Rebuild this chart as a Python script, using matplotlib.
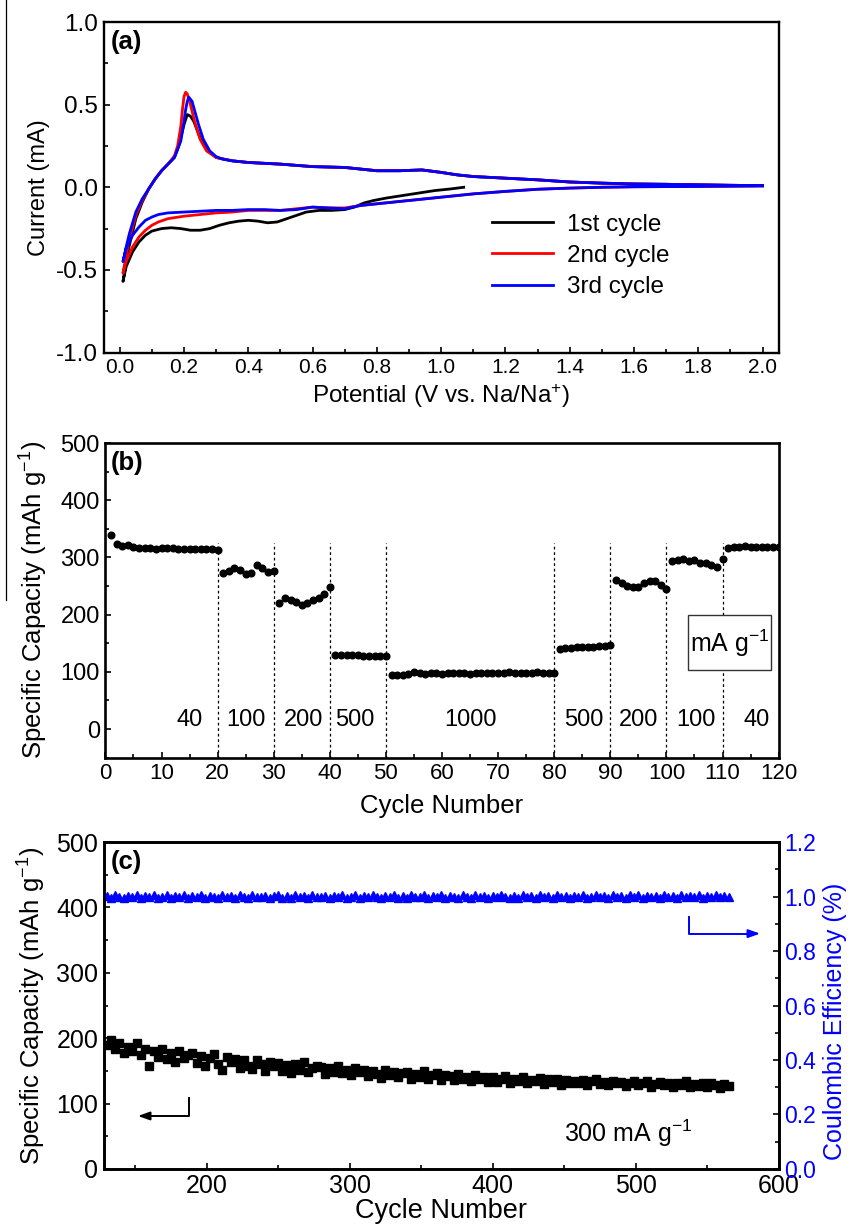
import numpy as np
import matplotlib
matplotlib.use("Agg")
import matplotlib.pyplot as plt
from matplotlib.ticker import MultipleLocator, FormatStrFormatter
from matplotlib.lines import Line2D
from matplotlib.patches import Rectangle

plt.rcParams['font.family'] = ['Liberation Sans', 'DejaVu Sans']
plt.rcParams['mathtext.fontset'] = 'custom'
plt.rcParams['mathtext.rm'] = 'Liberation Sans'
plt.rcParams['mathtext.it'] = 'Liberation Sans'

# ---------------- Panel (a): CV data ----------------
cv1_cath_v = [1.07, 1.03, 0.98, 0.93, 0.88, 0.83, 0.79, 0.76, 0.73, 0.70, 0.66, 0.62, 0.58, 0.55,
              0.52, 0.49, 0.46, 0.43, 0.40, 0.37, 0.34, 0.31, 0.28, 0.25, 0.22, 0.19, 0.16, 0.13,
              0.10, 0.08, 0.06, 0.04, 0.02, 0.01]
cv1_cath_i = [0.0, -0.01, -0.02, -0.035, -0.05, -0.065, -0.08, -0.095, -0.12, -0.135, -0.14, -0.14,
              -0.15, -0.17, -0.19, -0.21, -0.215, -0.205, -0.20, -0.205, -0.215, -0.23, -0.25, -0.26,
              -0.26, -0.25, -0.245, -0.25, -0.265, -0.29, -0.33, -0.39, -0.48, -0.57]
cv1_an_v = [0.01, 0.02, 0.03, 0.05, 0.07, 0.09, 0.11, 0.13, 0.15, 0.17, 0.18, 0.19, 0.20, 0.21,
            0.22, 0.23, 0.24, 0.25, 0.27, 0.30, 0.35, 0.40, 0.50, 0.60, 0.70, 0.80, 0.87, 0.94,
            1.00, 1.05, 1.10, 1.20, 1.30, 1.40, 1.50, 1.60, 1.70, 1.80, 1.90, 2.00]
cv1_an_i = [-0.57, -0.45, -0.35, -0.19, -0.09, -0.01, 0.05, 0.10, 0.14, 0.18, 0.23, 0.30, 0.38, 0.44,
            0.43, 0.40, 0.35, 0.30, 0.23, 0.18, 0.16, 0.15, 0.14, 0.125, 0.12, 0.10, 0.10, 0.105,
            0.09, 0.075, 0.065, 0.055, 0.045, 0.032, 0.025, 0.02, 0.018, 0.015, 0.012, 0.01]

cath_v = [2.0, 1.8, 1.6, 1.5, 1.4, 1.3, 1.2, 1.1, 1.0, 0.9, 0.8, 0.75, 0.7, 0.65, 0.6, 0.55, 0.5,
          0.45, 0.4, 0.35, 0.3, 0.25, 0.2, 0.15, 0.12, 0.1, 0.08, 0.06, 0.04, 0.02, 0.01]
cv2_cath_i = [0.008, 0.005, 0.003, 0.0, -0.005, -0.012, -0.025, -0.04, -0.06, -0.08, -0.10, -0.11,
              -0.125, -0.125, -0.12, -0.13, -0.14, -0.14, -0.14, -0.15, -0.155, -0.165, -0.175,
              -0.19, -0.21, -0.23, -0.26, -0.30, -0.36, -0.45, -0.52]
cv3_cath_i = [0.008, 0.005, 0.003, 0.0, -0.005, -0.012, -0.025, -0.04, -0.06, -0.08, -0.10, -0.11,
              -0.13, -0.125, -0.12, -0.135, -0.14, -0.135, -0.135, -0.14, -0.14, -0.145, -0.15,
              -0.155, -0.165, -0.18, -0.20, -0.24, -0.29, -0.37, -0.45]

cv2_an_v = [0.01, 0.02, 0.03, 0.05, 0.07, 0.09, 0.11, 0.13, 0.15, 0.17, 0.18, 0.19, 0.195, 0.20,
            0.205, 0.21, 0.22, 0.23, 0.24, 0.25, 0.27, 0.30, 0.35, 0.40, 0.50, 0.60, 0.70, 0.80,
            0.87, 0.94, 1.00, 1.05, 1.10, 1.20, 1.30, 1.40, 1.50, 1.60, 1.70, 1.80, 1.90, 2.00]
cv2_an_i = [-0.52, -0.41, -0.31, -0.17, -0.08, -0.01, 0.05, 0.10, 0.14, 0.19, 0.25, 0.37, 0.47,
            0.55, 0.575, 0.565, 0.50, 0.42, 0.35, 0.29, 0.22, 0.18, 0.16, 0.15, 0.14, 0.125, 0.12,
            0.10, 0.10, 0.105, 0.09, 0.075, 0.065, 0.055, 0.045, 0.032, 0.025, 0.02, 0.018, 0.015,
            0.012, 0.01]
cv3_an_v = [0.01, 0.02, 0.03, 0.05, 0.07, 0.09, 0.11, 0.13, 0.15, 0.17, 0.19, 0.20, 0.205, 0.21,
            0.215, 0.225, 0.235, 0.245, 0.26, 0.28, 0.30, 0.32, 0.35, 0.40, 0.50, 0.60, 0.70, 0.80,
            0.87, 0.94, 1.00, 1.05, 1.10, 1.20, 1.30, 1.40, 1.50, 1.60, 1.70, 1.80, 1.90, 2.00]
cv3_an_i = [-0.45, -0.36, -0.28, -0.15, -0.07, -0.01, 0.05, 0.10, 0.14, 0.18, 0.28, 0.40, 0.47,
            0.52, 0.545, 0.52, 0.45, 0.38, 0.29, 0.22, 0.185, 0.17, 0.16, 0.15, 0.14, 0.125, 0.12,
            0.10, 0.10, 0.105, 0.09, 0.075, 0.065, 0.055, 0.045, 0.032, 0.025, 0.02, 0.018, 0.015,
            0.012, 0.01]
cv_labels = ['1st cycle', '2nd cycle', '3rd cycle']
cv_colors = ['black', '#ff0000', '#0000ff']

# ---------------- Panel (b): rate data ----------------
rate_seg_capacity = [
    [340, 324, 320, 322, 318, 316, 316, 317, 315, 316, 317, 316, 315, 315, 314, 314, 315, 314, 315, 313],
    [272, 276, 282, 278, 271, 273, 286, 281, 274, 277],
    [220, 230, 226, 222, 217, 221, 225, 230, 237, 248],
    [130, 130, 129, 129, 129, 128, 128, 128, 127, 127],
    [95, 95, 95, 96, 100, 98, 97, 98, 98, 97, 98, 98, 98, 98, 97, 98, 98, 98, 98, 98,
     98, 99, 98, 98, 98, 98, 99, 98, 98, 98],
    [140, 142, 142, 143, 143, 144, 144, 145, 146, 147],
    [260, 255, 251, 248, 249, 256, 259, 258, 252, 245],
    [293, 296, 297, 294, 295, 291, 290, 287, 284, 298],
    [317, 319, 319, 320, 319, 319, 318, 319, 318, 319],
]
rate_labels = ['40', '100', '200', '500', '1000', '500', '200', '100', '40']
rate_label_x = [15, 25, 35.3, 44.5, 65, 85.3, 95, 105.2, 116]
rate_boundaries = [20, 30, 40, 50, 80, 90, 100, 110]

# ---------------- Panel (c): long cycling data ----------------
cyc_c = np.arange(130, 566, 3)
capacity_c = [
    190, 198, 183, 192, 178, 187, 181, 193, 175, 184,
    158, 180, 171, 184, 168, 178, 163, 181, 170, 175,
    178, 162, 172, 158, 169, 176, 160, 151, 171, 163,
    168, 155, 166, 158, 153, 167, 160, 150, 164, 157,
    162, 150, 159, 146, 160, 151, 163, 149, 155, 158,
    156, 145, 154, 148, 158, 147, 152, 143, 155, 149,
    151, 142, 150, 145, 139, 152, 144, 149, 140, 147,
    148, 138, 145, 141, 150, 137, 144, 146, 136, 143,
    142, 136, 145, 138, 140, 134, 143, 137, 141, 133,
    140, 133, 138, 142, 132, 137, 135, 140, 131, 136,
    134, 139, 130, 137, 133, 138, 129, 136, 132, 135,
    131, 136, 129, 134, 137, 130, 133, 128, 135, 131,
    133, 127, 132, 135, 128, 131, 134, 126, 130, 133,
    128, 132, 126, 131, 129, 134, 125, 130, 127, 132,
    126, 131, 128, 124, 130, 127]
ce_c = [
    1.002, 0.996, 1.005, 0.999, 0.994, 1.003, 0.998, 1.006, 0.995, 1.001,
    0.997, 1.004, 0.993, 1.000, 1.006, 0.996, 1.002, 0.998, 1.005, 0.994,
    1.001, 0.997, 1.007, 0.995, 1.003, 0.999, 0.993, 1.004, 0.998, 1.002,
    0.996, 1.005, 0.999, 0.994, 1.006, 1.000, 0.997, 1.003, 0.995, 1.001,
    1.004, 0.996, 1.002, 0.993, 1.005, 0.998, 1.001, 0.995, 1.006, 0.999,
    0.997, 1.003, 0.994, 1.002, 0.998, 1.007, 0.996, 1.000, 1.004, 0.995,
    1.001, 0.997, 1.005, 0.999, 0.993, 1.003, 0.998, 1.006, 0.996, 1.002,
    0.995, 1.004, 1.000, 0.997, 1.006, 0.994, 1.002, 0.999, 1.005, 0.996,
    1.003, 0.998, 0.994, 1.004, 1.000, 0.996, 1.007, 0.998, 1.002, 0.995,
    1.001, 0.997, 1.005, 0.999, 0.994, 1.003, 0.996, 1.006, 0.998, 1.001,
    0.995, 1.004, 0.999, 1.002, 0.996, 1.005, 0.997, 1.001, 0.994, 1.003,
    0.998, 1.006, 0.995, 1.000, 1.004, 0.997, 1.002, 0.993, 1.005, 0.999,
    1.001, 0.996, 1.004, 0.998, 1.006, 0.995, 1.002, 0.999, 1.003, 0.996,
    1.005, 0.998, 1.001, 0.994, 1.004, 0.997, 1.002, 0.999, 1.006, 0.996,
    1.001, 0.997, 1.004, 0.998, 1.003, 1.000]

BLUE = '#0000ff'

fig = plt.figure(figsize=(8.5, 12.24), dpi=100)
ax_a = fig.add_axes([0.122, 0.712, 0.794, 0.270])
ax_b = fig.add_axes([0.124, 0.381, 0.792, 0.257])
ax_c = fig.add_axes([0.122, 0.045, 0.794, 0.267])

def style(ax, xsize, ysize, lw=1.7):
    for s in ax.spines.values():
        s.set_linewidth(lw)
    ax.tick_params(which='both', direction='in', top=False, right=False, width=1.2, colors='black')
    ax.tick_params(axis='x', labelsize=xsize, pad=4)
    ax.tick_params(axis='y', labelsize=ysize, pad=4)
    ax.tick_params(which='major', length=4.5)
    ax.tick_params(which='minor', length=3)

# ---- (a)
ax_a.plot(cv1_cath_v + cv1_an_v, cv1_cath_i + cv1_an_i, color=cv_colors[0], lw=2, label=cv_labels[0])
ax_a.plot(cath_v + cv2_an_v, cv2_cath_i + cv2_an_i, color=cv_colors[1], lw=2, label=cv_labels[1])
ax_a.plot(cath_v + cv3_an_v, cv3_cath_i + cv3_an_i, color=cv_colors[2], lw=2, label=cv_labels[2])
ax_a.set_xlim(-0.05, 2.05)
ax_a.set_ylim(-1.0, 1.0)
ax_a.xaxis.set_major_locator(MultipleLocator(0.2))
ax_a.xaxis.set_minor_locator(MultipleLocator(0.1))
ax_a.yaxis.set_major_locator(MultipleLocator(0.5))
ax_a.yaxis.set_minor_locator(MultipleLocator(0.25))
style(ax_a, 15, 17.5)
ax_a.xaxis.set_major_formatter(FormatStrFormatter('%.1f'))
ax_a.yaxis.set_major_formatter(FormatStrFormatter('%.1f'))
ax_a.set_xlabel('Potential (V vs. Na/Na$^{+}$)', fontsize=17.5)
ax_a.xaxis.set_label_coords(0.5, -0.09)
ax_a.set_ylabel('Current (mA)', fontsize=17)
ax_a.yaxis.set_label_coords(-0.08, 0.5)
ax_a.text(0.01, 0.975, '(a)', transform=ax_a.transAxes, fontsize=18.5, fontweight='bold', va='top', ha='left')
ax_a.legend(frameon=False, loc='upper left', bbox_to_anchor=(0.576, 0.42), borderaxespad=0,
            borderpad=0, handlelength=2.5, handletextpad=0.55, labelspacing=0.38, fontsize=17.5)

# ---- (b)
start = 1
for seg in rate_seg_capacity:
    cyc = np.arange(start, start + len(seg))
    ax_b.plot(cyc, seg, linestyle='none', marker='o', markersize=4.8, color='black')
    start += len(seg)
ax_b.vlines(rate_boundaries, -50, 325, colors='black', linestyles=(0, (2.2, 2.2)), lw=0.9)
for lab, xx in zip(rate_labels, rate_label_x):
    ax_b.text(xx, 16, lab, fontsize=17, ha='center', va='center')
ax_b.add_patch(Rectangle((103.9, 103), 14.7, 96, fc='white', ec='#333333', lw=1.0, zorder=3))
ax_b.text(111.25, 150, 'mA g$^{-1}$', fontsize=18, ha='center', va='center', zorder=4)
ax_b.set_xlim(0, 120)
ax_b.set_ylim(-50, 500)
ax_b.xaxis.set_major_locator(MultipleLocator(10))
ax_b.xaxis.set_minor_locator(MultipleLocator(5))
ax_b.yaxis.set_major_locator(MultipleLocator(100))
ax_b.yaxis.set_minor_locator(MultipleLocator(50))
style(ax_b, 16, 17, lw=1.9)
ax_b.set_xlabel('Cycle Number', fontsize=18.5)
ax_b.xaxis.set_label_coords(0.5, -0.115)
ax_b.set_ylabel('Specific Capacity (mAh g$^{-1}$)', fontsize=18.5)
ax_b.yaxis.set_label_coords(-0.083, 0.5)
ax_b.text(0.008, 0.975, '(b)', transform=ax_b.transAxes, fontsize=18.5, fontweight='bold', va='top', ha='left')

# ---- (c)
ax_c.plot(cyc_c, capacity_c, linestyle='none', marker='s', markersize=5.8, color='black')
ax_c.set_xlim(128, 600)
ax_c.set_ylim(0, 500)
ax_c.xaxis.set_major_locator(MultipleLocator(100))
ax_c.xaxis.set_minor_locator(MultipleLocator(50))
ax_c.yaxis.set_major_locator(MultipleLocator(100))
ax_c.yaxis.set_minor_locator(MultipleLocator(50))
style(ax_c, 18, 18, lw=1.9)
ax_c.set_xlabel('Cycle Number', fontsize=19.5)
ax_c.xaxis.set_label_coords(0.5, -0.088)
ax_c.set_ylabel('Specific Capacity (mAh g$^{-1}$)', fontsize=18.5)
ax_c.yaxis.set_label_coords(-0.082, 0.5)
ax_c.text(0.01, 0.975, '(c)', transform=ax_c.transAxes, fontsize=18.5, fontweight='bold', va='top', ha='left')

ax_c2 = ax_c.twinx()
ax_c2.plot(cyc_c, ce_c, linestyle='none', marker='^', markersize=6.3, color=BLUE)
ax_c2.set_ylim(0, 1.2)
ax_c2.yaxis.set_major_locator(MultipleLocator(0.2))
ax_c2.yaxis.set_minor_locator(MultipleLocator(0.1))
ax_c2.yaxis.set_major_formatter(FormatStrFormatter('%.1f'))
for s in ax_c2.spines.values():
    s.set_linewidth(1.9)
ax_c2.tick_params(which='both', direction='in', width=1.2, labelsize=16.5, labelcolor=BLUE, pad=4)
ax_c2.tick_params(which='major', length=4.5)
ax_c2.tick_params(which='minor', length=3)
ax_c2.set_ylabel('Coulombic Efficiency (%)', fontsize=18, color=BLUE)
ax_c2.yaxis.set_label_coords(1.066, 0.45)

# arrows
ax_c.plot([188, 188, 160], [109, 81, 81], color='black', lw=1.4)
ax_c.annotate('', xy=(150, 81), xytext=(162, 81),
              arrowprops=dict(arrowstyle='-|>,head_length=0.7,head_width=0.25', color='black', lw=1.4))
ax_c.plot([537, 537, 578], [385, 360, 360], color=BLUE, lw=1.4)
ax_c.annotate('', xy=(589, 360), xytext=(576, 360),
              arrowprops=dict(arrowstyle='-|>,head_length=0.7,head_width=0.25', color=BLUE, lw=1.4))
ax_c.text(495, 54, '300 mA g$^{-1}$', fontsize=18, ha='center', va='center')

# thin vertical rule at left edge
fig.add_artist(Line2D([0.007, 0.007], [1.0, 1 - 600 / 1224], color='black', lw=0.9))

fig.savefig('out.png', dpi=100)
